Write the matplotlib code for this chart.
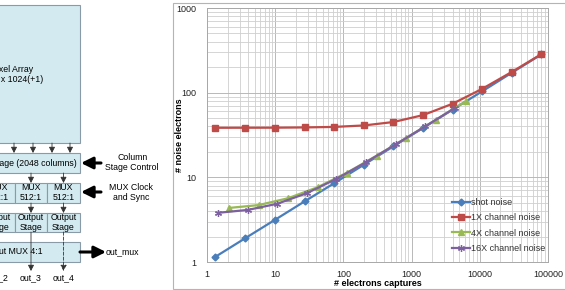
import matplotlib
matplotlib.use("Agg")
import matplotlib.pyplot as plt
from matplotlib.patches import Rectangle

plt.rcParams['font.family'] = ['Liberation Sans', 'DejaVu Sans']

# chart data
shot_x = [1.3, 3.6, 10, 27, 73, 200, 540, 1470, 4000, 10900, 29500, 80000]
shot_y = [1.14, 1.9, 3.16, 5.2, 8.5, 14.1, 23.2, 38.3, 63.2, 104, 172, 283]
ch1_x = [1.3, 3.6, 10, 27, 73, 200, 540, 1470, 4000, 10900, 29500, 80000]
ch1_y = [38.5, 38.55, 38.6, 38.85, 39.4, 41.0, 45.0, 54.3, 74.0, 111.3, 175.9, 285.4]
ch4_x = [2.1, 5.7, 15.4, 42, 114, 310, 840, 2290, 6200]
ch4_y = [4.35, 4.7, 5.66, 7.65, 11.4, 18.1, 29.3, 48.0, 78.8]
ch16_x = [1.45, 3.95, 10.7, 29, 79, 215, 585, 1590, 4300]
ch16_y = [3.81, 4.12, 4.87, 6.49, 9.59, 15.1, 24.5, 40.0, 65.7]
labels = ['shot noise', '1X channel noise', '4X channel noise', '16X channel noise']
x_ticks = [1, 10, 100, 1000, 10000, 100000]
y_ticks = [1, 10, 100, 1000]

fig = plt.figure(figsize=(5.65, 2.9), dpi=100)

# overlay in pixel coordinates for the block diagram and chart frame
ov = fig.add_axes([0, 0, 1, 1])
ov.set_xlim(0, 565)
ov.set_ylim(290, 0)
ov.axis('off')

box_fc = '#d3eaf0'
box_ec = '#8a9aa6'
fs = 6.3

def box(x0, y0, x1, y1):
    ov.add_patch(Rectangle((x0, y0), x1 - x0, y1 - y0, facecolor=box_fc, edgecolor=box_ec, lw=0.8))

def small_arrow(x, y0, y1, ls='-'):
    ov.annotate('', xy=(x, y1), xytext=(x, y0),
                arrowprops=dict(arrowstyle='-|>,head_length=0.35,head_width=0.18', lw=0.6,
                                color='#333333', linestyle=ls, shrinkA=0, shrinkB=0))

def big_arrow(x0, x1, y):
    ov.annotate('', xy=(x1, y), xytext=(x0, y),
                arrowprops=dict(arrowstyle='-|>,head_length=0.7,head_width=0.35', lw=2.2,
                                color='black', shrinkA=0, shrinkB=0))

# pixel array
box(-5, 5, 80, 143)
ov.text(33, 70, 'Pixel Array', ha='right', va='center', fontsize=fs)
ov.text(43, 79, '2048 x 1024(+1)', ha='right', va='center', fontsize=fs)
for xa in [14, 33, 52, 70]:
    small_arrow(xa, 143, 153)

# column stage
box(-5, 153, 80, 173)
ov.text(77, 163, 'Column stage (2048 columns)', ha='right', va='center', fontsize=fs)
big_arrow(101, 81, 163)
ov.text(133, 158, 'Column', ha='center', va='center', fontsize=fs)
ov.text(132, 168, 'Stage Control', ha='center', va='center', fontsize=fs)

cols = [-2, 31, 63.5]
edges = [-18, 15, 47, 80]
for xa in cols:
    small_arrow(xa, 173, 183)

# mux row
for i in range(3):
    box(edges[i], 183, edges[i + 1], 203)
    ov.text(cols[i], 188, 'MUX', ha='center', va='center', fontsize=fs)
    ov.text(cols[i], 198, '512:1', ha='center', va='center', fontsize=fs)
big_arrow(101, 81, 192)
ov.text(131, 188, 'MUX Clock', ha='center', va='center', fontsize=fs)
ov.text(131, 198, 'and Sync', ha='center', va='center', fontsize=fs)
for xa in cols:
    small_arrow(xa, 203, 213)

# output stage row
for i in range(3):
    box(edges[i], 213, edges[i + 1], 232)
    ov.text(cols[i], 218, 'Output', ha='center', va='center', fontsize=fs)
    ov.text(cols[i], 227, 'Stage', ha='center', va='center', fontsize=fs)

# output mux
box(-5, 242, 80, 262)
ov.text(43, 252, 'Output MUX 4:1', ha='right', va='center', fontsize=fs)
big_arrow(80, 106, 252)
ov.text(106, 252, 'out_mux', ha='left', va='center', fontsize=fs)

small_arrow(cols[1], 232, 271)
small_arrow(cols[2], 232, 271, ls=(0, (4, 2)))
small_arrow(cols[0], 262, 271)
for xa, name in zip(cols, ['out_2', 'out_3', 'out_4']):
    ov.text(xa, 278, name, ha='center', va='center', fontsize=fs)

# chart frame
ov.add_patch(Rectangle((173, 3), 400, 286, facecolor='white', edgecolor='#b4b4b4', lw=0.8))

# chart
ax = fig.add_axes([207 / 565, 28 / 290, 341 / 565, 254 / 290])
ax.set_xscale('log')
ax.set_yscale('log')
ax.set_xlim(1, 100000)
ax.set_ylim(1, 1000)
ax.grid(True, which='major', color='#b8b8b8', lw=0.7)
ax.grid(True, which='minor', color='#cfcfcf', lw=0.6)
ax.set_axisbelow(True)
for sp in ax.spines.values():
    sp.set_color('#a8a8a8')
    sp.set_linewidth(0.7)

ax.plot(shot_x, shot_y, color='#4a7ebb', lw=1.6, marker='D', ms=3.5, label=labels[0])
ax.plot(ch1_x, ch1_y, color='#be4b48', lw=1.6, marker='s', ms=4.5, label=labels[1])
ax.plot(ch4_x, ch4_y, color='#98b954', lw=1.6, marker='^', ms=4.5, label=labels[2])
ax.plot(ch16_x, ch16_y, color='#7d60a0', lw=1.6, marker=(6, 2, 0), ms=5, mew=0.9, label=labels[3])

ax.set_xticks(x_ticks)
ax.set_xticklabels([str(v) for v in x_ticks])
ax.set_yticks(y_ticks)
ax.set_yticklabels([str(v) for v in y_ticks])
ax.tick_params(which='both', length=0, labelsize=6.5, colors='#222222')
ax.tick_params(axis='x', pad=6)
ax.tick_params(axis='y', pad=8)
ax.set_xlabel('# electrons captures', fontsize=6.5, fontweight='bold')
ax.xaxis.set_label_coords(0.5, (262 - 283) / 254, transform=ax.transAxes)
ax.xaxis.label.set_va('center')
ax.set_ylabel('# noise electrons', fontsize=6.5, fontweight='bold')
ax.yaxis.set_label_coords((179 - 207) / 341, 0.5, transform=ax.transAxes)
ax.yaxis.label.set_va('center')

leg = ax.legend(loc='upper left', bbox_to_anchor=(452 / 565, 1 - 198 / 290), bbox_transform=fig.transFigure,
                frameon=False, fontsize=6.5, handlelength=2.0, handletextpad=0.1,
                labelspacing=0.7, borderaxespad=0, borderpad=0)
for t in leg.get_texts():
    t.set_color('#333333')

fig.savefig('out.png', dpi=100)
